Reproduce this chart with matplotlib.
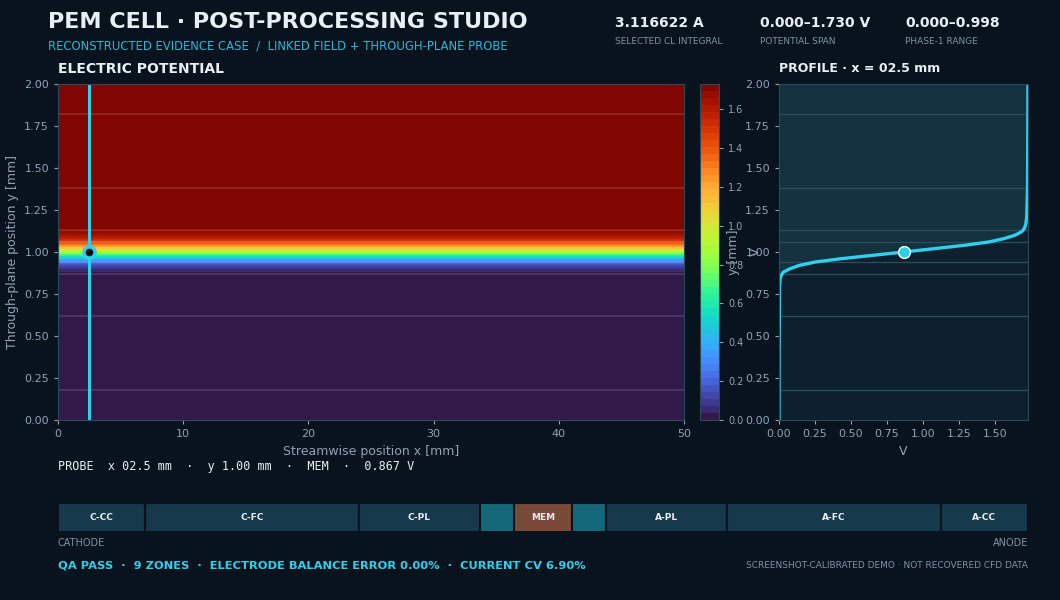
import numpy as np
import matplotlib
matplotlib.use("Agg")
import matplotlib.pyplot as plt

BG = "#08131e"
SPINE = "#2a4a5a"
TICK = "#8fa3b3"
CYAN = "#2ed0ee"
WHITE = "#e8f0f5"

# through-plane profile at x = 2.5 mm
prof_y = [0.00, 0.40, 0.80, 0.84, 0.86, 0.88, 0.90, 0.92, 0.94, 0.96, 0.98, 1.00,
          1.02, 1.04, 1.06, 1.08, 1.10, 1.12, 1.14, 1.17, 1.22, 1.40, 2.00]
prof_v = [0.000, 0.001, 0.004, 0.008, 0.015, 0.030, 0.075, 0.140, 0.250, 0.430, 0.650, 0.867,
          1.080, 1.290, 1.460, 1.565, 1.640, 1.685, 1.705, 1.716, 1.722, 1.727, 1.730]
field_x = [0.0, 50.0]

# layer stack (cathode -> anode)
zone_names = ["C-CC", "C-FC", "C-PL", "", "MEM", "", "A-PL", "A-FC", "A-CC"]
zone_widths = [0.18, 0.44, 0.25, 0.07, 0.12, 0.07, 0.25, 0.44, 0.18]
zone_colors = ["#16394b", "#16394b", "#16394b", "#15687a", "#7a4a38", "#15687a",
               "#16394b", "#16394b", "#16394b"]

probe_x, probe_y, probe_v = 2.5, 1.00, 0.867

stats = [("3.116622 A", "SELECTED CL INTEGRAL"),
         ("0.000\u20131.730 V", "POTENTIAL SPAN"),
         ("0.000\u20130.998", "PHASE-1 RANGE")]

boundaries = np.cumsum(zone_widths)[:-1]

fig = plt.figure(figsize=(10.6, 6), dpi=100, facecolor=BG)


def style(ax):
    for s in ax.spines.values():
        s.set_color(SPINE)
    ax.tick_params(colors=TICK, labelsize=8, length=3)
    ax.xaxis.label.set_color(TICK)
    ax.yaxis.label.set_color(TICK)


# main field
ax = fig.add_axes([0.0547, 0.30, 0.5906, 0.56])
Z = np.tile(np.array(prof_v)[:, None], (1, len(field_x)))
levels = np.linspace(0, 1.73, 49)
cf = ax.contourf(field_x, prof_y, Z, levels=levels, cmap="turbo")
for b in boundaries:
    ax.axhline(b, color="white", alpha=0.12, lw=1.5)
ax.axvline(probe_x, color=CYAN, lw=2.2)
ax.plot(probe_x, probe_y, "o", ms=8, mfc="#061018", mec=CYAN, mew=2.5)
ax.set_xlim(0, 50)
ax.set_ylim(0, 2)
ax.set_yticks(np.arange(0, 2.01, 0.25))
ax.set_xlabel("Streamwise position x [mm]", fontsize=9)
ax.set_ylabel("Through-plane position y [mm]", fontsize=9)
style(ax)

# colorbar
cax = fig.add_axes([0.6604, 0.30, 0.0179, 0.56])
cb = fig.colorbar(cf, cax=cax, ticks=np.arange(0, 1.61, 0.2))
cb.outline.set_edgecolor(SPINE)
cb.set_label("V", color=TICK, fontsize=9)
cax.tick_params(colors=TICK, labelsize=7, length=3)

# profile
pax = fig.add_axes([0.7349, 0.30, 0.2349, 0.56])
pax.set_facecolor("#0e1f2d")
pax.fill_betweenx(prof_y, 0, prof_v, color="#12323f", lw=0)
for b in boundaries:
    pax.axhline(b, color=SPINE, lw=1)
pax.plot(prof_v, prof_y, color=CYAN, lw=2.4, solid_capstyle="round")
pax.plot(probe_v, probe_y, "o", ms=8.5, mfc=CYAN, mec="white", mew=1)
pax.set_xlim(0, 1.73)
pax.set_ylim(0, 2)
pax.set_yticks(np.arange(0, 2.01, 0.25))
pax.set_xticks(np.arange(0, 1.51, 0.25))
pax.set_xlabel("V", fontsize=9)
pax.set_ylabel("y [mm]", fontsize=9)
style(pax)

# zone bar
zax = fig.add_axes([0.0547, 0.1133, 0.9151, 0.0483])
left = 0.0
for name, w, c in zip(zone_names, zone_widths, zone_colors):
    zax.barh(0, w, left=left, height=1, color=c, edgecolor=BG, lw=1.5)
    if name:
        zax.text(left + w / 2, 0, name, ha="center", va="center",
                 color=WHITE, fontsize=6.5, fontweight="bold")
    left += w
zax.set_xlim(0, sum(zone_widths))
zax.set_ylim(-0.5, 0.5)
zax.axis("off")

# header texts
fig.text(0.0453, 0.963, "PEM CELL \u00b7 POST-PROCESSING STUDIO", color=WHITE,
         fontsize=16, fontweight="bold", va="center")
fig.text(0.0453, 0.923, "RECONSTRUCTED EVIDENCE CASE  /  LINKED FIELD + THROUGH-PLANE PROBE",
         color="#2ab8d8", fontsize=8.4, va="center")
fig.text(0.0547, 0.885, "ELECTRIC POTENTIAL", color=WHITE, fontsize=10,
         fontweight="bold", va="center")
fig.text(0.7349, 0.885, "PROFILE \u00b7 x = 02.5 mm", color=WHITE, fontsize=9,
         fontweight="bold", va="center")
for xpos, (val, lab) in zip([0.580, 0.717, 0.854], stats):
    fig.text(xpos, 0.962, val, color=WHITE, fontsize=10, fontweight="bold", va="center")
    fig.text(xpos, 0.930, lab, color="#7f93a3", fontsize=6.5, va="center")

# footer texts
fig.text(0.0547, 0.222, "PROBE  x 02.5 mm  \u00b7  y 1.00 mm  \u00b7  MEM  \u00b7  0.867 V",
         family="DejaVu Sans Mono", color=WHITE, fontsize=8.5, va="center")
fig.text(0.0547, 0.095, "CATHODE", color="#7f93a3", fontsize=7, va="center")
fig.text(0.970, 0.095, "ANODE", color="#7f93a3", fontsize=7, va="center", ha="right")
fig.text(0.0547, 0.058,
         "QA PASS  \u00b7  9 ZONES  \u00b7  ELECTRODE BALANCE ERROR 0.00%  \u00b7  CURRENT CV 6.90%",
         color=CYAN, fontsize=8.25, fontweight="bold", va="center")
fig.text(0.970, 0.057, "SCREENSHOT-CALIBRATED DEMO \u00b7 NOT RECOVERED CFD DATA",
         color="#7f93a3", fontsize=6.5, va="center", ha="right")

fig.savefig("out.png", dpi=100, facecolor=BG)
